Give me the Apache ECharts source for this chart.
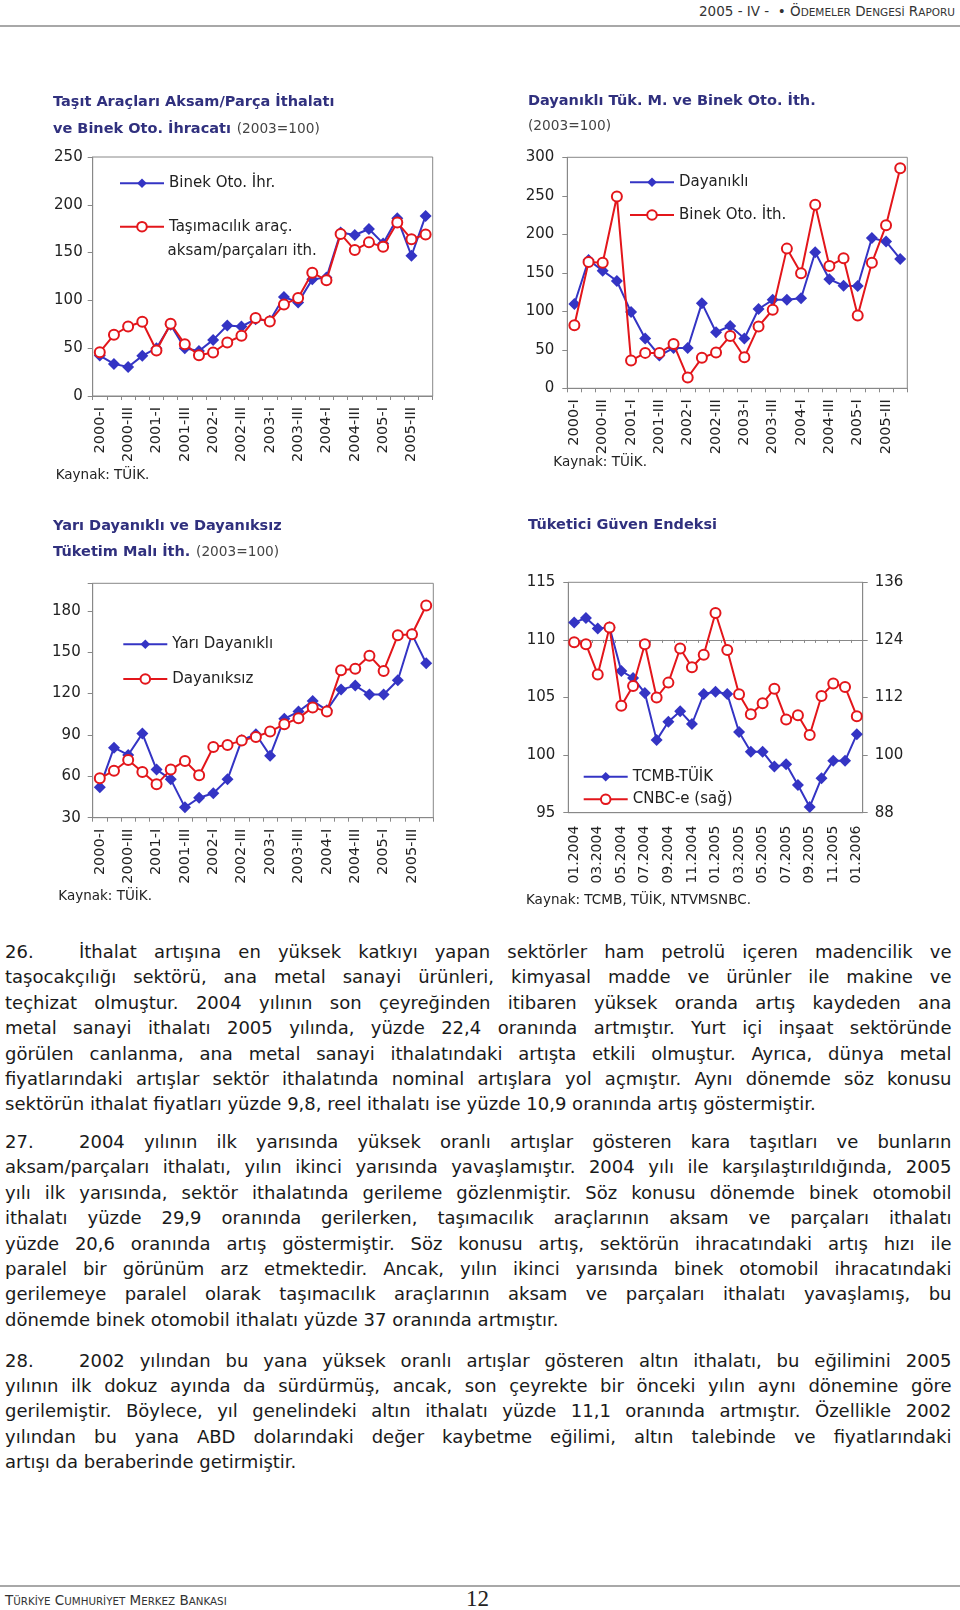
<!DOCTYPE html>
<html lang="tr">
<head>
<meta charset="utf-8">
<script src="https://cdn.jsdelivr.net/npm/echarts@6/dist/echarts.min.js"></script>
<style>
  html, body { margin:0; padding:0; background:#fff; }
  body { width:960px; height:1610px; position:relative; overflow:hidden; font-family:"DejaVu Sans", sans-serif; color:#1a1a1a; }
  #chart { position:absolute; left:0; top:0; width:960px; height:915px; }
  .hdr { position:absolute; right:5px; top:3px; font-size:13.5px; color:#333; white-space:nowrap; }
  .sc { font-size:10.5px; }
  .rule { position:absolute; left:0; width:960px; height:2px; background:#a8a8a8; }
  .para { position:absolute; left:5px; width:947px; font-size:18px; line-height:25.4px; color:#1a1a1a; }
  .ln { height:25.4px; white-space:nowrap; overflow:visible; display:flex; }
  .num { width:74px; flex:none; }
  .jl { flex:1; white-space:nowrap; }
  .ftr { position:absolute; left:5px; top:1592px; font-size:13.5px; color:#333; white-space:nowrap; }
  .ftr .sc { font-size:10.3px; }
  .pg { position:absolute; left:466px; top:1586px; font-family:"Liberation Serif", serif; font-size:23px; color:#222; }
</style>
</head>
<body>
<div class="hdr">2005 - IV - &nbsp;• Ö<span class="sc">DEMELER</span> D<span class="sc">ENGESİ</span> R<span class="sc">APORU</span></div>
<div class="rule" style="top:25px"></div>
<div id="chart"></div>

<div class="para" style="top:939px">
  <div class="ln"><span class="num">26.</span><span class="jl j">İthalat artışına en yüksek katkıyı yapan sektörler ham petrolü içeren madencilik ve</span></div>
  <div class="ln"><span class="jl j">taşocakçılığı sektörü, ana metal sanayi ürünleri, kimyasal madde ve ürünler ile makine ve</span></div>
  <div class="ln"><span class="jl j">teçhizat olmuştur. 2004 yılının son çeyreğinden itibaren yüksek oranda artış kaydeden ana</span></div>
  <div class="ln"><span class="jl j">metal sanayi ithalatı 2005 yılında, yüzde 22,4 oranında artmıştır. Yurt içi inşaat sektöründe</span></div>
  <div class="ln"><span class="jl j">görülen canlanma, ana metal sanayi ithalatındaki artışta etkili olmuştur. Ayrıca, dünya metal</span></div>
  <div class="ln"><span class="jl j">fiyatlarındaki artışlar sektör ithalatında nominal artışlara yol açmıştır. Aynı dönemde söz konusu</span></div>
  <div class="ln"><span class="jl">sektörün ithalat fiyatları yüzde 9,8, reel ithalatı ise yüzde 10,9 oranında artış göstermiştir.</span></div>
</div>

<div class="para" style="top:1129px">
  <div class="ln"><span class="num">27.</span><span class="jl j">2004 yılının ilk yarısında yüksek oranlı artışlar gösteren kara taşıtları ve bunların</span></div>
  <div class="ln"><span class="jl j">aksam/parçaları ithalatı, yılın ikinci yarısında yavaşlamıştır. 2004 yılı ile karşılaştırıldığında, 2005</span></div>
  <div class="ln"><span class="jl j">yılı ilk yarısında, sektör ithalatında gerileme gözlenmiştir. Söz konusu dönemde binek otomobil</span></div>
  <div class="ln"><span class="jl j">ithalatı yüzde 29,9 oranında gerilerken, taşımacılık araçlarının aksam ve parçaları ithalatı</span></div>
  <div class="ln"><span class="jl j">yüzde 20,6 oranında artış göstermiştir. Söz konusu artış, sektörün ihracatındaki artış hızı ile</span></div>
  <div class="ln"><span class="jl j">paralel bir görünüm arz etmektedir. Ancak, yılın ikinci yarısında binek otomobil ihracatındaki</span></div>
  <div class="ln"><span class="jl j">gerilemeye paralel olarak taşımacılık araçlarının aksam ve parçaları ithalatı yavaşlamış, bu</span></div>
  <div class="ln"><span class="jl">dönemde binek otomobil ithalatı yüzde 37 oranında artmıştır.</span></div>
</div>

<div class="para" style="top:1347.7px">
  <div class="ln"><span class="num">28.</span><span class="jl j">2002 yılından bu yana yüksek oranlı artışlar gösteren altın ithalatı, bu eğilimini 2005</span></div>
  <div class="ln"><span class="jl j">yılının ilk dokuz ayında da sürdürmüş, ancak, son çeyrekte bir önceki yılın aynı dönemine göre</span></div>
  <div class="ln"><span class="jl j">gerilemiştir. Böylece, yıl genelindeki altın ithalatı yüzde 11,1 oranında artmıştır. Özellikle 2002</span></div>
  <div class="ln"><span class="jl j">yılından bu yana ABD dolarındaki değer kaybetme eğilimi, altın talebinde ve fiyatlarındaki</span></div>
  <div class="ln"><span class="jl">artışı da beraberinde getirmiştir.</span></div>
</div>

<div class="rule" style="top:1585px"></div>
<div class="ftr">T<span class="sc">ÜRKİYE</span> C<span class="sc">UMHURİYET</span> M<span class="sc">ERKEZ</span> B<span class="sc">ANKASI</span></div>
<div class="pg">12</div>

<script>
// ---------- DATA ----------
const quarters = ['2000-I','2000-II','2000-III','2000-IV','2001-I','2001-II','2001-III','2001-IV',
  '2002-I','2002-II','2002-III','2002-IV','2003-I','2003-II','2003-III','2003-IV',
  '2004-I','2004-II','2004-III','2004-IV','2005-I','2005-II','2005-III','2005-IV'];
const months = ['01.2004','02.2004','03.2004','04.2004','05.2004','06.2004','07.2004','08.2004',
  '09.2004','10.2004','11.2004','12.2004','01.2005','02.2005','03.2005','04.2005','05.2005',
  '06.2005','07.2005','08.2005','09.2005','10.2005','11.2005','12.2005','01.2006'];

const binekIhr = [42.3, 33.6, 30.4, 42, 50, 74.5, 50, 47, 58.7, 73.8, 72.7, 80.4, 78.7, 103.5, 97.9, 122, 123.9, 171, 168.4, 174.7, 159.6, 186, 146.7, 188.4];
const tasimaAksam = [45.8, 64, 72.7, 77.6, 47.6, 75.5, 54.2, 42.7, 45.5, 56, 63, 81.5, 78, 95.8, 102.4, 129, 121, 169.5, 152.6, 160.7, 156, 181.4, 164, 169];

const dayanikli = [109.4, 166.7, 152.8, 139.4, 99, 64.7, 42.6, 52.3, 52.3, 110.6, 72.8, 80.9, 64.7, 103, 114.9, 114.9, 117, 176.6, 141.6, 133.3, 132.9, 195.2, 190.5, 168];
const binekIth = [82, 164, 163, 249, 36, 46, 46, 57.4, 14, 39.6, 46.4, 68, 40.4, 80.4, 102, 181.4, 149.4, 238.5, 158.9, 168.8, 94.5, 163, 211.7, 285.7];

const yariDayanikli = [52, 80.8, 75.5, 91, 64.9, 57.8, 37.5, 44.5, 47.7, 57.8, 86.2, 90.5, 75, 101.7, 107, 114.7, 108, 122.9, 125.8, 119.3, 119.3, 129.7, 163, 142];
const dayaniksiz = [58.6, 64.1, 71.9, 63.2, 54.2, 64.9, 71.2, 60.8, 81.3, 82.8, 85.9, 88.6, 92.5, 97.8, 102.2, 110, 107.1, 137, 138, 147.5, 136.4, 162.3, 163, 183.9];

const tcmbTuik = [111.5, 111.9, 111.0, 111.1, 107.3, 106.7, 105.4, 101.3, 102.9, 103.8, 102.7, 105.3, 105.5, 105.3, 102.0, 100.3, 100.3, 99.0, 99.2, 97.4, 95.5, 98.0, 99.5, 99.5, 101.8];
const cnbcE = [123.5, 123.1, 116.8, 126.6, 110.3, 114.4, 123.1, 112.0, 115.1, 122.2, 118.3, 120.9, 129.6, 121.9, 112.7, 108.5, 110.8, 113.8, 107.4, 108.3, 104.2, 112.3, 114.9, 114.2, 108.1];

// ---------- STYLE ----------
const FONT = 'DejaVu Sans';
const BLUE = '#3434C4';
const RED = '#E3161B';
const AX = '#888888';
const TXT = '#222222';
const NAVY = '#30307E';

function xCat(gi, data, margin, fs) {
  return {
    gridIndex: gi, type: 'category', data: data, boundaryGap: true,
    axisLine: { show: true, lineStyle: { color: AX, width: 1 } },
    axisTick: { show: true, length: 4, interval: 0, lineStyle: { color: AX } },
    axisLabel: { rotate: 90, interval: 1, margin: margin, fontSize: fs, fontFamily: FONT, color: TXT },
    splitLine: { show: false }
  };
}
function yVal(gi, min, max, interval, margin, extra) {
  return Object.assign({
    gridIndex: gi, type: 'value', min: min, max: max, interval: interval,
    axisLine: { show: true, lineStyle: { color: AX, width: 1 } },
    axisTick: { show: true, length: 5, lineStyle: { color: AX } },
    axisLabel: { margin: margin, fontSize: 15, fontFamily: FONT, color: TXT },
    splitLine: { show: false }
  }, extra || {});
}
function blueSeries(name, xi, yi, data) {
  return { type: 'line', name: name, xAxisIndex: xi, yAxisIndex: yi, data: data,
    symbol: 'diamond', symbolSize: 12, showSymbol: true, showAllSymbol: true,
    lineStyle: { width: 2, color: BLUE },
    itemStyle: { color: BLUE }, z: 3 };
}
function redSeries(name, xi, yi, data) {
  return { type: 'line', name: name, xAxisIndex: xi, yAxisIndex: yi, data: data,
    symbol: 'emptyCircle', symbolSize: 10, showSymbol: true, showAllSymbol: true,
    lineStyle: { width: 2, color: RED },
    itemStyle: { color: RED, borderWidth: 1.8 }, z: 4 };
}
function leg(name, left, cy, fmt) {
  const l = { data: [name], left: left, top: cy - 9, orient: 'horizontal', padding: 0,
    itemWidth: 44, itemHeight: 12, selectedMode: false,
    textStyle: { fontFamily: FONT, fontSize: 15, color: TXT, lineHeight: 18 } };
  if (fmt) l.formatter = fmt;
  return l;
}
function ttl(text, left, top, lh) {
  const rich = {
    b: { lineHeight: lh, fontFamily: FONT, fontWeight: 'bold', fontSize: 14.5, color: NAVY },
    r: { lineHeight: lh, fontFamily: FONT, fontWeight: 'normal', fontSize: 13.7, color: '#444' }
  };
  return { text: text, left: left, top: top, padding: 0,
    textStyle: { fontWeight: 'normal', fontFamily: FONT, rich: rich } };
}
function src(text, left, cy) {
  return { type: 'text', left: left, top: cy - 8,
    style: { text: text, fill: TXT, font: '13.5px "' + FONT + '"' } };
}

const S1 = 'Binek Oto. İhr.';
const S2 = 'Taşımacılık araç. aksam/parçaları ith.';
const S3 = 'Dayanıklı';
const S4 = 'Binek Oto. İth.';
const S5 = 'Yarı Dayanıklı';
const S6 = 'Dayanıksız';
const S7 = 'TCMB-TÜİK';
const S8 = 'CNBC-e (sağ)';

const option = {
  animation: false,
  backgroundColor: 'transparent',
  title: [
    ttl('{b|Taşıt Araçları Aksam/Parça İthalatı}\n{b|ve Binek Oto. İhracatı} {r|(2003=100)}', 53, 88, 27.6),
    ttl('{b|Dayanıklı Tük. M. ve Binek Oto. İth.}\n{r|(2003=100)}', 528, 89.2, 25),
    ttl('{b|Yarı Dayanıklı ve Dayanıksız}\n{b|Tüketim Malı İth.} {r|(2003=100)}', 53, 513.7, 26),
    ttl('{b|Tüketici Güven Endeksi}', 528, 512.7, 26)
  ],
  grid: [
    { left: 92.7, top: 157, width: 340, height: 239, show: true, borderColor: AX, borderWidth: 1 },
    { left: 567.3, top: 157.3, width: 340, height: 231, show: true, borderColor: AX, borderWidth: 1 },
    { left: 92.7, top: 583.3, width: 340.6, height: 234.4, show: true, borderColor: AX, borderWidth: 1 },
    { left: 568.3, top: 582.3, width: 294.4, height: 230.4, show: true, borderColor: AX, borderWidth: 1 }
  ],
  xAxis: [
    xCat(0, quarters, 11, 14.5),
    xCat(1, quarters, 11, 14.5),
    xCat(2, quarters, 11, 14.5),
    Object.assign(xCat(3, months, 13, 14), { axisTick: { show: false } }),
    Object.assign(xCat(3, months, 13, 14), {
      offset: -57.6,
      axisTick: { show: true, inside: true, length: 3, interval: 0, lineStyle: { color: AX } },
      axisLabel: { show: false }
    })
  ],
  yAxis: [
    yVal(0, 0, 250, 50, 10),
    yVal(1, 0, 300, 50, 13),
    yVal(2, 30, 200, 30, 12, { axisLabel: { margin: 12, fontSize: 15, fontFamily: FONT, color: TXT,
      formatter: function (v) { return v > 180 ? '' : String(v); } } }),
    yVal(3, 95, 115, 5, 13),
    yVal(3, 88, 136, 12, 12, { position: 'right' })
  ],
  legend: [
    leg(S1, 119, 183.3),
    leg(S2, 119, 226.7, function () { return 'Taşımacılık araç.'; }),
    leg(S3, 629, 182.3),
    leg(S4, 629, 215),
    leg(S5, 122.3, 644.3),
    leg(S6, 122.3, 679),
    leg(S7, 582.7, 776.7),
    leg(S8, 582.7, 799.3)
  ],
  graphic: [
    { type: 'text', left: 167.5, top: 252.7 - 9,
      style: { text: 'aksam/parçaları ith.', fill: TXT, font: '15px "' + FONT + '"' } },
    src('Kaynak: TÜİK.', 55.7, 476),
    src('Kaynak: TÜİK.', 553.3, 463.3),
    src('Kaynak: TÜİK.', 58.3, 897.7),
    src('Kaynak: TCMB, TÜİK, NTVMSNBC.', 526, 901.7)
  ],
  series: [
    blueSeries(S1, 0, 0, binekIhr),
    redSeries(S2, 0, 0, tasimaAksam),
    blueSeries(S3, 1, 1, dayanikli),
    redSeries(S4, 1, 1, binekIth),
    blueSeries(S5, 2, 2, yariDayanikli),
    redSeries(S6, 2, 2, dayaniksiz),
    blueSeries(S7, 3, 3, tcmbTuik),
    redSeries(S8, 3, 4, cnbcE)
  ]
};

const chart = echarts.init(document.getElementById('chart'), null, { renderer: 'canvas' });
chart.setOption(option);

// ---------- justify body lines ----------
document.querySelectorAll('.jl').forEach(function (el) {
  const probe = document.createElement('span');
  probe.style.cssText = 'position:absolute;visibility:hidden;white-space:nowrap;';
  probe.style.font = getComputedStyle(el).font;
  probe.textContent = el.textContent;
  document.body.appendChild(probe);
  const w = probe.getBoundingClientRect().width;
  probe.remove();
  const avail = el.getBoundingClientRect().width;
  const txt = el.textContent;
  if (w > avail) {
    el.style.letterSpacing = ((avail - w - 1) / txt.length) + 'px';
  } else if (el.classList.contains('j')) {
    const spaces = (txt.match(/ /g) || []).length;
    if (spaces > 0) el.style.wordSpacing = ((avail - w - 0.5) / spaces) + 'px';
  }
});
</script>
</body>
</html>
